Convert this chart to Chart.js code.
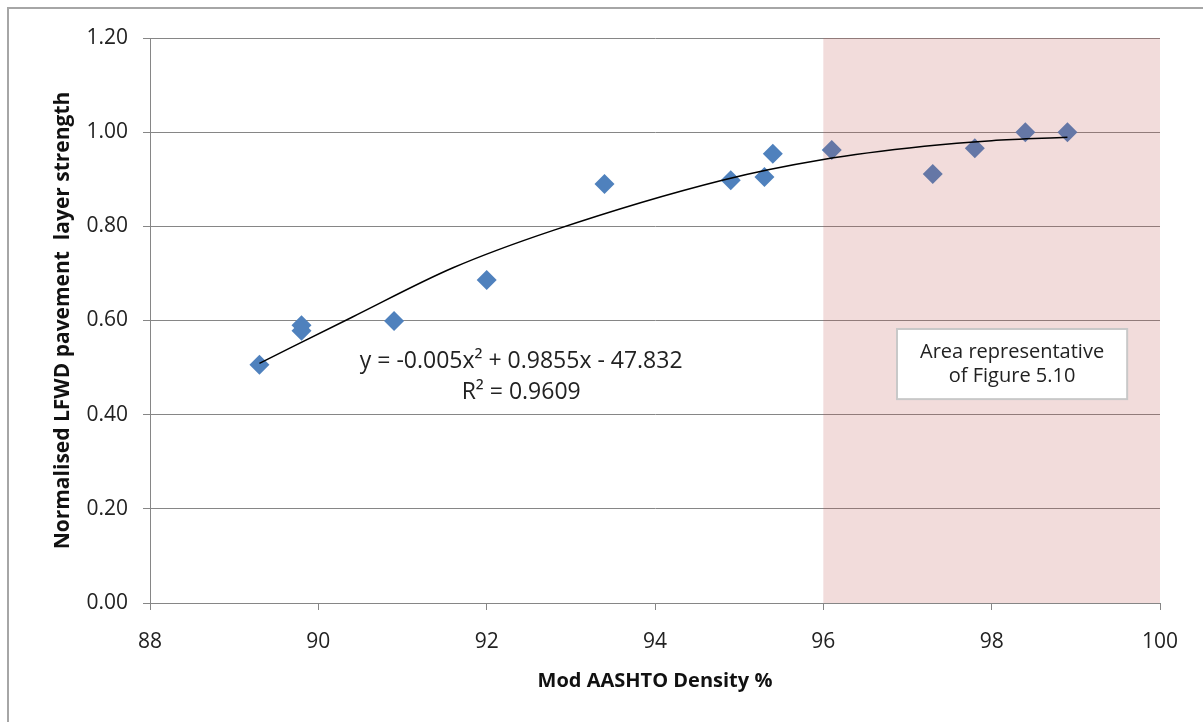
<!DOCTYPE html>
<html>
<head>
<meta charset="utf-8">
<title>LFWD strength vs density</title>
<script src="https://cdn.jsdelivr.net/npm/chart.js@4.4.1/dist/chart.umd.min.js"></script>
<style>
  html, body { margin: 0; padding: 0; background: #fff; }
  canvas { display: block; }
</style>
</head>
<body>
<canvas id="chart" width="1203" height="722"></canvas>
<script>
// measured points
const density = [89.3, 89.8, 89.8, 90.9, 92.0, 93.4, 94.9, 95.3, 95.4, 96.1, 97.3, 97.8, 98.4, 98.9];
const strength = [0.506, 0.590, 0.578, 0.599, 0.686, 0.890, 0.898, 0.905, 0.954, 0.962, 0.911, 0.966, 1.000, 1.000];

// polynomial trendline
const trendX = [89.3, 90.4, 91.6, 92.8, 94.8, 96.0, 97.2, 98.0, 98.9];
const trendY = [0.509, 0.607, 0.712, 0.792, 0.898, 0.942, 0.970, 0.982, 0.989];

const xTicks = [88, 90, 92, 94, 96, 98, 100];
const yTicks = [0, 0.2, 0.4, 0.6, 0.8, 1.0, 1.2];

const shadedRange = [96, 100];
const equationText = ["y = -0.005x\u00B2 + 0.9855x - 47.832", "R\u00B2 = 0.9609"];
const boxText = ["Area representative", "of Figure 5.10"];

const FONT = "'Open Sans', 'Liberation Sans', sans-serif";
const GRID = "#868686";

const toPoints = (xs, ys) => xs.map((x, i) => ({ x, y: ys[i] }));

// shaded area goes on top of the markers, under the trendline
const overlayPlugin = {
  id: "overlay",
  afterDatasetDraw(chart, args) {
    if (args.index !== 1) return;
    const { ctx, chartArea, scales } = chart;
    const x0 = scales.x.getPixelForValue(shadedRange[0]);
    const x1 = scales.x.getPixelForValue(shadedRange[1]);
    ctx.save();
    ctx.fillStyle = "rgba(192, 80, 77, 0.2)";
    ctx.fillRect(x0, chartArea.top, x1 - x0, chartArea.bottom - chartArea.top);
    ctx.restore();
  },
};

const labelsPlugin = {
  id: "labels",
  beforeDraw(chart) {
    const { ctx } = chart;
    ctx.save();
    ctx.strokeStyle = "#A6A6A6";
    ctx.lineWidth = 2;
    ctx.strokeRect(8, 8, 1300, 800);
    ctx.restore();
  },
  afterDraw(chart) {
    const { ctx, scales } = chart;
    const x = scales.x, y = scales.y;
    ctx.save();
    ctx.fillStyle = "#222";
    ctx.textAlign = "center";
    ctx.textBaseline = "middle";
    ctx.font = "23px " + FONT;
    const ex = x.getPixelForValue(92.41);
    ctx.fillText(equationText[0], ex, y.getPixelForValue(0.514));
    ctx.fillText(equationText[1], ex, y.getPixelForValue(0.448));

    const bx0 = x.getPixelForValue(96.875), bx1 = x.getPixelForValue(99.61);
    const by0 = y.getPixelForValue(0.582), by1 = y.getPixelForValue(0.433);
    ctx.fillStyle = "#fff";
    ctx.fillRect(bx0, by0, bx1 - bx0, by1 - by0);
    ctx.strokeStyle = "#C8C8C8";
    ctx.lineWidth = 2;
    ctx.strokeRect(bx0, by0, bx1 - bx0, by1 - by0);
    ctx.fillStyle = "#222";
    ctx.font = "20px " + FONT;
    const bcx = (bx0 + bx1) / 2;
    ctx.fillText(boxText[0], bcx, by0 + 23);
    ctx.fillText(boxText[1], bcx, by0 + 47);
    ctx.restore();
  },
};

new Chart(document.getElementById("chart"), {
  type: "scatter",
  data: {
    datasets: [
      {
        type: "line",
        label: "Trend",
        data: toPoints(trendX, trendY),
        borderColor: "#000",
        borderWidth: 1.5,
        pointRadius: 0,
        fill: false,
        cubicInterpolationMode: "monotone",
        order: 0,
      },
      {
        label: "LFWD",
        data: toPoints(density, strength),
        pointStyle: "rectRot",
        pointRadius: 10,
        pointHoverRadius: 10,
        backgroundColor: "#4F81BD",
        borderColor: "#4F81BD",
        borderWidth: 0,
        order: 1,
      },
    ],
  },
  options: {
    responsive: false,
    animation: false,
    layout: { padding: { top: 38, right: 43, left: 0, bottom: 0 } },
    plugins: {
      legend: { display: false },
      tooltip: { enabled: false },
    },
    scales: {
      x: {
        type: "linear",
        min: 88,
        max: 100,
        afterFit(s) { s.height = 119; },
        afterBuildTicks(s) { s.ticks = xTicks.map((v) => ({ value: v })); },
        grid: { drawOnChartArea: false, drawTicks: true, tickLength: 7, color: GRID, tickColor: GRID },
        border: { display: true, color: GRID, width: 1 },
        ticks: { color: "#222", font: { family: FONT, size: 21 }, padding: 19 },
        title: {
          display: true,
          text: "Mod AASHTO Density %",
          color: "#111",
          font: { family: FONT, size: 20, weight: "bold" },
          padding: { top: 0, bottom: 29 },
        },
      },
      y: {
        min: 0,
        max: 1.2,
        afterFit(s) { s.width = 150; },
        afterBuildTicks(s) { s.ticks = yTicks.map((v) => ({ value: v })); },
        grid: { color: GRID, tickColor: GRID, tickLength: 7, lineWidth: 1 },
        border: { display: true, color: GRID, width: 1 },
        ticks: {
          color: "#222",
          font: { family: FONT, size: 21 },
          padding: 15,
          callback: (v) => v.toFixed(2),
        },
        title: {
          display: true,
          text: "Normalised LFWD pavement  layer strength",
          color: "#111",
          font: { family: FONT, size: 21, weight: "bold" },
          padding: { top: 50, bottom: 0 },
        },
      },
    },
  },
  plugins: [overlayPlugin, labelsPlugin],
});
</script>
</body>
</html>
